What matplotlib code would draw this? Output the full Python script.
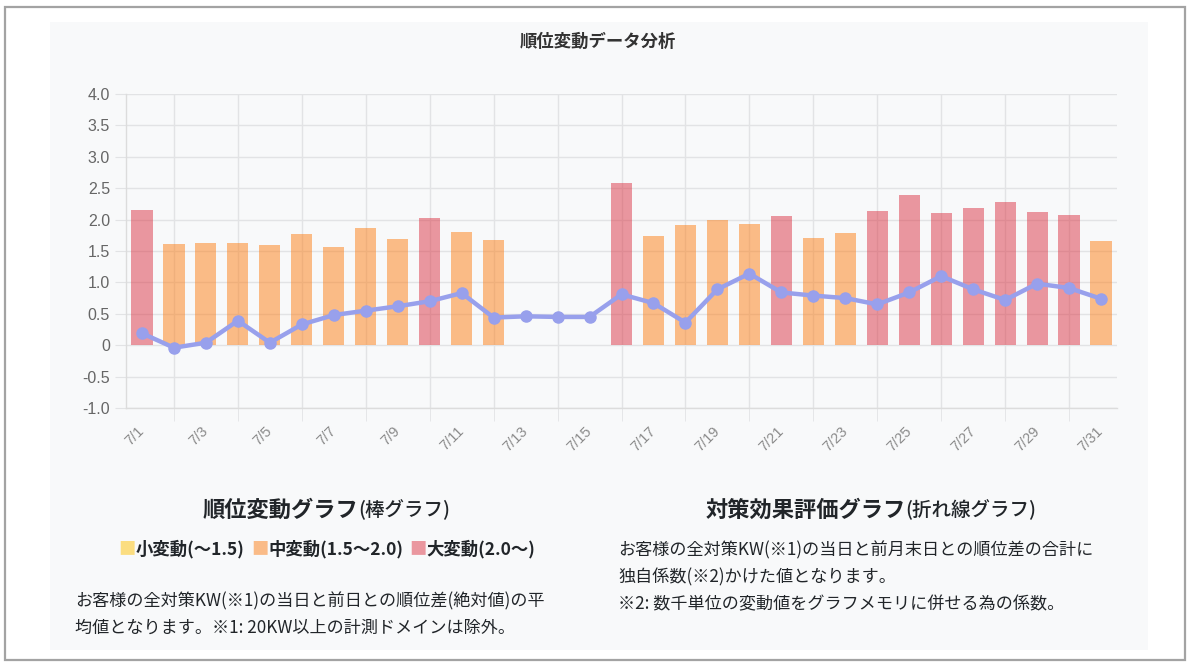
import numpy as np
import matplotlib.pyplot as plt
from matplotlib.patches import Rectangle

# data
days = [f"7/{d}" for d in range(1, 32)]
bar_vals = [2.15, 1.61, 1.62, 1.62, 1.60, 1.77, 1.56, 1.86, 1.69, 2.03,
            1.80, 1.68, np.nan, np.nan, np.nan, 2.59, 1.74, 1.91, 1.99, 1.93,
            2.06, 1.71, 1.78, 2.14, 2.39, 2.10, 2.19, 2.28, 2.12, 2.08, 1.66]
line_vals = [0.19, -0.04, 0.04, 0.39, 0.04, 0.33, 0.48, 0.55, 0.62, 0.70,
             0.83, 0.44, 0.46, 0.45, 0.45, 0.81, 0.67, 0.36, 0.89, 1.14,
             0.84, 0.79, 0.75, 0.65, 0.84, 1.10, 0.89, 0.72, 0.98, 0.91, 0.74]
legend_labels = ["小変動(〜1.5)", "中変動(1.5〜2.0)", "大変動(2.0〜)"]

c_small = (255/255, 193/255, 7/255, 0.5)
c_mid = (253/255, 126/255, 20/255, 0.5)
c_big = (220/255, 53/255, 69/255, 0.5)
legend_colors = ['#fbdd80', '#fabb87', '#ea979f']
line_color = '#98a0ec'
grid_color = '#e2e3e5'

JP = ['Noto Sans CJK JP', 'DejaVu Sans']

W, H = 1192, 666
fig = plt.figure(figsize=(W / 100, H / 100), dpi=100)
fig.patch.set_facecolor('white')

# outer border and panel
fig.patches.append(Rectangle((5 / W, 1 - 660 / H), 1180 / W, 653 / H, transform=fig.transFigure,
                             fill=False, ec='#a3a3a3', lw=1.6, zorder=-10))
fig.patches.append(Rectangle((50 / W, 1 - 650 / H), 1098 / W, 628 / H, transform=fig.transFigure,
                             fc='#f8f9fa', ec='none', zorder=-10))

ax = fig.add_axes([126 / W, 1 - 408 / H, 991 / W, 314 / H])
ax.set_facecolor('none')

x = np.arange(len(days))


def bar_color(v):
    if v < 1.5:
        return c_small
    elif v < 2.0:
        return c_mid
    return c_big


for xi, v in zip(x, bar_vals):
    if np.isnan(v):
        continue
    ax.bar(xi, v, width=0.66, color=bar_color(v), zorder=2)

ax.plot(x, line_vals, color=line_color, lw=3.2, marker='o', ms=8, zorder=3,
        solid_capstyle='round')

ax.set_xlim(-0.5, len(days) - 0.5)
ax.set_ylim(-1, 4)

yt = np.arange(-1, 4.01, 0.5)
ax.set_yticks(yt)
ax.set_yticklabels(["0" if abs(v) < 1e-9 else f"{v:.1f}" for v in yt],
                   fontsize=11.5, color='#666666', family='Liberation Sans')
ax.tick_params(axis='y', length=8, color=grid_color, pad=3.5)
ax.grid(axis='y', color=grid_color, lw=1, zorder=0)

ax.set_xticks(x[::2])
ax.set_xticklabels(days[::2], rotation=45, ha='right', va='center',
                   rotation_mode='anchor', fontsize=10.5, color='#8a8a8a',
                   family='Liberation Sans')
ax.tick_params(axis='x', which='major', length=0, pad=15)
ax.set_xticks(x[1::2], minor=True)
ax.tick_params(axis='x', which='minor', length=9, color=grid_color)
ax.grid(axis='x', which='minor', color=grid_color, lw=1, zorder=0)

for s in ['top', 'right']:
    ax.spines[s].set_visible(False)
for s in ['left', 'bottom']:
    ax.spines[s].set_color('#dcdcdc')
    ax.spines[s].set_linewidth(1)

fig.text(598 / W, 1 - 42 / H, "順位変動データ分析", ha='center', va='center',
         fontsize=12.5, fontweight='bold', color='#333333', family=JP)

renderer = fig.canvas.get_renderer()


def centered_runs(cx, cy, runs):
    # place text pieces side by side, centred on cx; a number is a gap in px
    items = []
    for r in runs:
        if isinstance(r, (int, float)):
            items.append((None, r))
            continue
        s, kw = r
        t = fig.text(0, 1 - cy / H, s, ha='left', va='center', family=JP, **kw)
        items.append((t, t.get_window_extent(renderer).width))
    total = sum(w for _, w in items)
    xp = cx - total / 2
    for t, w in items:
        if t is not None:
            t.set_x(xp / W)
        xp += w


dark = '#212529'
centered_runs(326, 510, [("順位変動グラフ", dict(fontsize=16, fontweight='bold', color=dark)),
                         ("(棒グラフ)", dict(fontsize=14, fontweight='medium', color=dark))])
runs = []
for i, (lab, col) in enumerate(zip(legend_labels, legend_colors)):
    if i:
        runs.append(6)
    runs.append(("■", dict(fontsize=12.5, color=col)))
    runs.append((lab, dict(fontsize=12.5, fontweight='bold', color=dark)))
centered_runs(327, 549, runs)

centered_runs(871, 510, [("対策効果評価グラフ", dict(fontsize=16, fontweight='bold', color=dark)),
                         ("(折れ線グラフ)", dict(fontsize=14, fontweight='medium', color=dark))])

left_lines = ["お客様の全対策KW(※1)の当日と前日との順位差(絶対値)の平",
              "均値となります。※1: 20KW以上の計測ドメインは除外。"]
right_lines = ["お客様の全対策KW(※1)の当日と前月末日との順位差の合計に",
               "独自係数(※2)かけた値となります。",
               "※2: 数千単位の変動値をグラフメモリに併せる為の係数。"]
for i, s in enumerate(left_lines):
    fig.text(75 / W, 1 - (601 + 27 * i) / H, s, ha='left', va='center',
             fontsize=12.3, color=dark, family=JP)
for i, s in enumerate(right_lines):
    fig.text(618 / W, 1 - (550 + 27 * i) / H, s, ha='left', va='center',
             fontsize=12.3, color=dark, family=JP)

fig.savefig('out.png', dpi=100, facecolor='white')
